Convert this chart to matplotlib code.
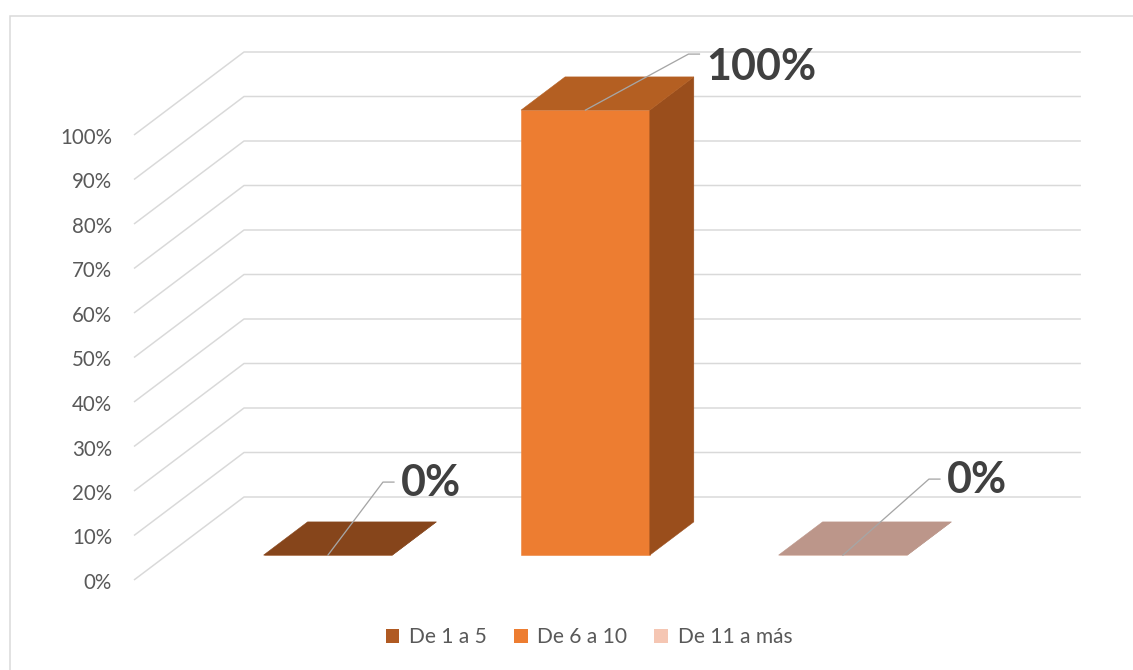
import matplotlib.pyplot as plt
from matplotlib.patches import Polygon, Rectangle, Patch

plt.rcParams['font.family'] = ['Lato', 'DejaVu Sans']

categories = ["De 1 a 5", "De 6 a 10", "De 11 a más"]
values = [0, 100, 0]
ticks = list(range(0, 101, 10))

front_colors = ["#B05A22", "#ED7D31", "#F5C6B3"]
top_colors = ["#86451B", "#B45F22", "#BC968A"]
side_colors = ["#7A3A10", "#9A4E1C", "#A88070"]

# pixel scale of the front plane
UX = 257.5   # px per category
UZ = 4.45    # px per percent
DX = 110 / UX   # depth shift, category units
DZ = 83 / UZ    # depth shift, percent units
XL, XR = -0.625, 2.625

fig = plt.figure(figsize=(1133 / 72, 670 / 72), dpi=72)
ax = fig.add_axes([0, 0, 1, 1])
ax.set_xlim(XL - 134 / UX, XL + (1133 - 134) / UX)
ax.set_ylim(-(670 - 580) / UZ, 580 / UZ)
ax.axis('off')


def P(x, d, z):
    return (x + d * DX, z + d * DZ)


# chart border
fig.add_artist(Rectangle((10 / 1133, -0.05), 1.1, 1.05 - 16 / 670,
                         transform=fig.transFigure, fill=False,
                         edgecolor="#D9D9D9", lw=1.5))

# side wall + back wall gridlines
for t in ticks:
    ax.plot([XL, XL + DX, XR + DX], [t, t + DZ, t + DZ],
            color="#D9D9D9", lw=1.5, zorder=1, solid_capstyle='butt')
    ax.text(XL - 22 / UX, t - 3 / UZ, f"{t}%", ha='right', va='center',
            fontsize=20.5, color="#595959")

# 3D bars
d0, d1 = 0.3, 0.7
for i, v in enumerate(values):
    x0, x1 = i - 0.25, i + 0.25
    faces = [
        ([P(x0, d0, 0), P(x1, d0, 0), P(x1, d0, v), P(x0, d0, v)], front_colors[i]),
        ([P(x1, d0, 0), P(x1, d1, 0), P(x1, d1, v), P(x1, d0, v)], side_colors[i]),
        ([P(x0, d0, v), P(x1, d0, v), P(x1, d1, v), P(x0, d1, v)], top_colors[i]),
    ]
    for pts, c in faces:
        ax.add_patch(Polygon(pts, closed=True, facecolor=c, edgecolor=c,
                             lw=0.5, zorder=3))

# data labels with leader lines
elbows = [(55, -73), (103, -56), (86, -76)]
text_dy = [1, 13, 1]
for i, v in enumerate(values):
    sx, sy = P(i, d0, v)
    ex, ey = sx + elbows[i][0] / UX, sy - elbows[i][1] / UZ
    hx = ex + 11 / UX
    ax.plot([sx, ex, hx], [sy, ey, ey], color="#A6A6A6", lw=1.3, zorder=4)
    ax.text(hx + 7 / UX, ey - text_dy[i] / UZ, f"{v}%", ha='left', va='center',
            fontsize=43, fontweight='bold', color="#404040", zorder=5)

handles = [Patch(facecolor=c, edgecolor='none') for c in front_colors]
leg = fig.legend(handles, categories, loc='center',
                 bbox_to_anchor=(589 / 1133, 1 - 637 / 670), ncol=3,
                 frameon=False, fontsize=21, handlelength=0.65,
                 handleheight=0.65, handletextpad=0.45, columnspacing=1.3)
for txt in leg.get_texts():
    txt.set_color("#595959")

fig.savefig("out.png", dpi=72)
